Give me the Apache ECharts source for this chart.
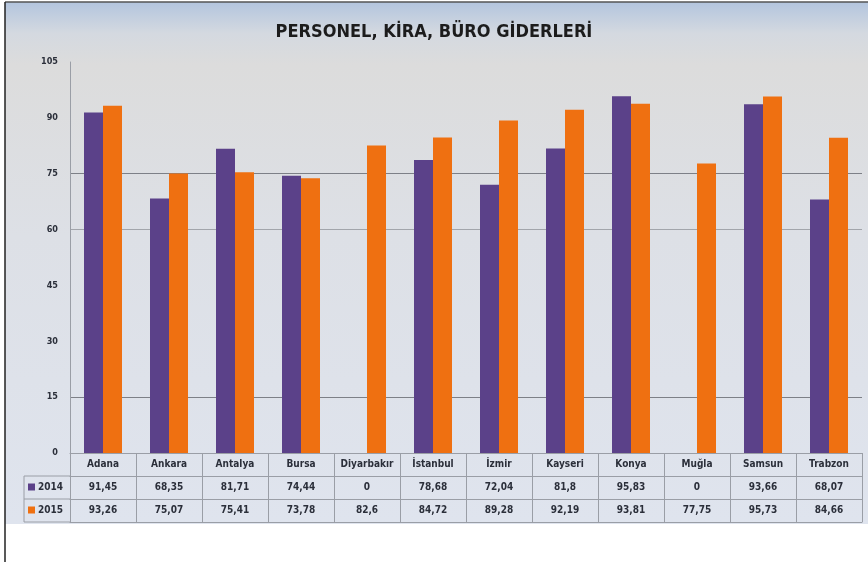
<!DOCTYPE html>
<html>
<head>
<meta charset="utf-8">
<script src="https://cdn.jsdelivr.net/npm/echarts@6/dist/echarts.min.js"></script>
<style>
  html, body { margin: 0; padding: 0; background: #fff; }
  #chart { width: 868px; height: 562px; }
</style>
</head>
<body>
<div id="chart"></div>
<script>
// veriler
const cities = ['Adana', 'Ankara', 'Antalya', 'Bursa', 'Diyarbakır', 'İstanbul', 'İzmir', 'Kayseri', 'Konya', 'Muğla', 'Samsun', 'Trabzon']
const years = ['2014', '2015']
const values2014 = [91.45, 68.35, 81.71, 74.44, 0, 78.68, 72.04, 81.8, 95.83, 0, 93.66, 68.07]
const values2015 = [93.26, 75.07, 75.41, 73.78, 82.6, 84.72, 89.28, 92.19, 93.81, 77.75, 95.73, 84.66]
const yTicks = [0, 15, 30, 45, 60, 75, 90, 105]

const font = "'DejaVu Sans Condensed', 'Liberation Sans Narrow', sans-serif"
const txt = '#2b2f3a'
const lineCol = '#9a9ea6'
const fmt = v => String(v).replace('.', ',')

// tablo satirlari
const axisY = 453
const rowH = 23

const chart = echarts.init(document.getElementById('chart'))

function tableAxis(data, offset, showLabel) {
  return {
    type: 'category',
    data: data,
    position: 'bottom',
    offset: offset,
    axisLine: { show: true, lineStyle: { color: lineCol, width: 1 } },
    axisTick: { show: false },
    axisLabel: {
      show: showLabel,
      interval: 0,
      margin: 6,
      color: txt,
      fontSize: 10,
      fontWeight: 'bold',
      fontFamily: font
    }
  }
}

chart.setOption({
  backgroundColor: '#ffffff',
  animation: false,
  graphic: [
    {
      type: 'rect',
      z: -10,
      shape: { x: 5, y: 2, width: 863, height: 522 },
      style: {
        fill: new echarts.graphic.LinearGradient(0, 0, 0, 1, [
          { offset: 0, color: '#b3c5de' },
          { offset: 0.06, color: '#d4d9e0' },
          { offset: 0.12, color: '#dcdcdc' },
          { offset: 0.45, color: '#dde0e6' },
          { offset: 1, color: '#dfe4ee' }
        ])
      }
    },
    { type: 'line', z: 10, shape: { x1: 5, y1: 2, x2: 868, y2: 2 }, style: { stroke: '#555', lineWidth: 1.5 } },
    { type: 'line', z: 10, shape: { x1: 5, y1: 2, x2: 5, y2: 562 }, style: { stroke: '#222', lineWidth: 1.5 } },
    // tablo basligi kutusu
    { type: 'line', shape: { x1: 24, y1: axisY + rowH, x2: 70, y2: axisY + rowH }, style: { stroke: lineCol } },
    { type: 'line', shape: { x1: 24, y1: axisY + 2 * rowH, x2: 70, y2: axisY + 2 * rowH }, style: { stroke: lineCol } },
    { type: 'line', shape: { x1: 24, y1: axisY + 3 * rowH, x2: 70, y2: axisY + 3 * rowH }, style: { stroke: lineCol } },
    { type: 'line', shape: { x1: 24, y1: axisY + rowH, x2: 24, y2: axisY + 3 * rowH }, style: { stroke: lineCol } }
  ],
  title: {
    text: 'PERSONEL, KİRA, BÜRO GİDERLERİ',
    left: 'center',
    top: 18,
    textStyle: { fontSize: 18, fontWeight: 'bold', color: '#1c1c1c', fontFamily: font }
  },
  legend: {
    data: years,
    orient: 'vertical',
    left: 28,
    top: axisY + rowH + 5,
    padding: 0,
    itemWidth: 7,
    itemHeight: 7,
    itemGap: 11,
    icon: 'rect',
    textStyle: { fontSize: 10, lineHeight: 12, fontWeight: 'bold', color: txt, fontFamily: font, padding: [0, 0, 0, -2] }
  },
  grid: { left: 70, right: 6, top: 62, bottom: 562 - axisY },
  xAxis: [
    {
      type: 'category',
      data: cities,
      axisLine: { show: true, lineStyle: { color: lineCol } },
      axisTick: { show: true, interval: 0, length: 3 * rowH, lineStyle: { color: lineCol } },
      axisLabel: {
        interval: 0,
        margin: 6,
        color: txt,
        fontSize: 10,
        fontWeight: 'bold',
        fontFamily: font
      }
    },
    tableAxis(values2014.map(fmt), rowH, true),
    tableAxis(values2015.map(fmt), 2 * rowH, true),
    tableAxis(cities, 3 * rowH, false)
  ],
  yAxis: {
    type: 'value',
    min: yTicks[0],
    max: yTicks[yTicks.length - 1],
    interval: 15,
    axisLine: { show: true, lineStyle: { color: lineCol } },
    axisTick: { show: false },
    axisLabel: { margin: 12, color: txt, fontSize: 9, fontWeight: 'bold', fontFamily: font },
    splitLine: {
      show: true,
      lineStyle: {
        width: 1.2,
        color: ['rgba(0,0,0,0)', '#7d8087', 'rgba(0,0,0,0)', 'rgba(0,0,0,0)', '#a2a5ab', '#7d8087', 'rgba(0,0,0,0)', 'rgba(0,0,0,0)']
      }
    }
  },
  series: [
    {
      name: years[0],
      type: 'bar',
      data: values2014,
      barWidth: 19,
      barGap: '0%',
      itemStyle: { color: '#5b4189' }
    },
    {
      name: years[1],
      type: 'bar',
      data: values2015,
      barWidth: 19,
      barGap: '0%',
      itemStyle: { color: '#ef7011' }
    }
  ]
})
</script>
</body>
</html>
